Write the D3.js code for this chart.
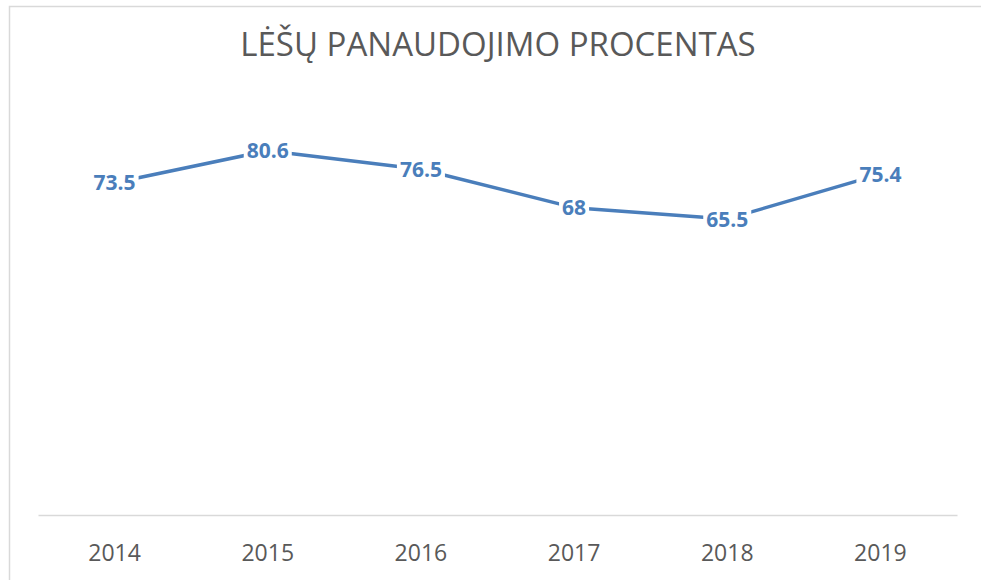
<!DOCTYPE html>
<html><head><meta charset="utf-8">
<script src="https://cdn.jsdelivr.net/npm/d3@7"></script>
<style>html,body{margin:0;padding:0;background:#fff;}</style>
</head><body>
<svg id="c" width="981" height="580"></svg>
<script>
const title = "LĖŠŲ PANAUDOJIMO PROCENTAS";
const years = ["2014","2015","2016","2017","2018","2019"];
const values = [73.5, 80.6, 76.5, 68, 65.5, 75.4];

const svg = d3.select("#c");
const col = "#4A7EBB";

svg.append("rect").attr("x", 9.5).attr("y", 6.5).attr("width", 1000).attr("height", 600)
  .attr("fill", "#fff").attr("stroke", "#d9d9d9").attr("stroke-width", 1.5);

svg.append("text").attr("x", 498).attr("y", 56).attr("text-anchor", "middle")
  .attr("font-family", "Open Sans").attr("font-size", 33).attr("fill", "#595959")
  .text(title);

const x = d3.scaleBand().domain(years).range([38, 957]);
const y = d3.scaleLinear().domain([0, 100]).range([515, 63]);

const axis = svg.append("g").attr("transform", "translate(0,515)")
  .call(d3.axisBottom(x).tickSize(0).tickPadding(30));
axis.select(".domain").attr("stroke", "#d9d9d9").attr("stroke-width", 1.5);
axis.selectAll("text").attr("font-family", "Open Sans").attr("font-size", 23)
  .attr("fill", "#595959");

const cx = d => x(d) + x.bandwidth() / 2;
const line = d3.line().x((d, i) => cx(years[i])).y(d => y(d));
svg.append("path").datum(values).attr("d", line).attr("fill", "none")
  .attr("stroke", col).attr("stroke-width", 3.5).attr("stroke-linejoin", "round");

const lab = svg.append("g").selectAll("g").data(values).join("g")
  .attr("transform", (d, i) => `translate(${cx(years[i])},${y(d)})`);
lab.append("rect").attr("fill", "#fff");
lab.append("text").attr("text-anchor", "middle").attr("dy", "0.36em")
  .attr("font-family", "Open Sans").attr("font-weight", "bold").attr("font-size", 21)
  .attr("fill", col).text(d => d);
lab.each(function() {
  const t = d3.select(this).select("text").node().getBBox();
  d3.select(this).select("rect").attr("x", t.x - 3).attr("y", t.y + 2)
    .attr("width", t.width + 6).attr("height", t.height - 4);
});
</script>
</body></html>
